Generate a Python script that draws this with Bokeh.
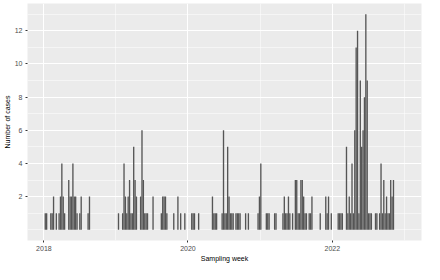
import datetime as dt
import calendar
from bokeh.plotting import figure
from bokeh.models import FixedTicker, DatetimeTickFormatter, Range1d, ColumnDataSource
from bokeh.embed import file_html
from bokeh.resources import INLINE

# Weekly case counts; weeks counted from the Monday 2018-01-01
origin = dt.datetime(2018, 1, 1)

weeks_2018 = [1, 2, 5, 6, 7, 9, 11, 12, 13, 14, 15, 18, 19, 20, 21, 22, 23, 24, 26, 27, 32, 33]
cases_2018 = [1, 1, 1, 1, 2, 1, 1, 2, 4, 2, 1, 3, 2, 2, 4, 2, 2, 1, 1, 2, 1, 2]

weeks_2019 = [54, 57, 58, 59, 60, 61, 62, 63, 64, 65, 66, 67, 70, 71, 72, 73, 74, 75, 79,
              85, 86, 87, 88, 89, 94, 97, 99, 102]
cases_2019 = [1, 1, 4, 2, 1, 2, 3, 1, 1, 5, 3, 2, 2, 6, 3, 1, 1, 1, 2,
              1, 2, 2, 2, 1, 1, 2, 1, 1]

weeks_2020 = [107, 108, 109, 112, 122, 123, 124, 125, 129, 130, 131, 132, 133, 134, 135, 136,
              137, 139, 140, 141, 142, 146, 148, 155, 156]
cases_2020 = [1, 1, 1, 1, 2, 1, 1, 1, 1, 6, 1, 1, 5, 2, 1, 1,
              1, 1, 1, 1, 1, 1, 1, 1, 2]

weeks_2021 = [157, 161, 162, 163, 167, 168, 173, 174, 175, 176, 177, 178, 180, 182, 183, 184,
              185, 186, 187, 188, 189, 190, 192, 193, 194, 200, 204, 205, 206, 208]
cases_2021 = [4, 1, 1, 1, 1, 1, 1, 2, 1, 1, 2, 1, 1, 3, 3, 1,
              1, 3, 3, 2, 1, 1, 1, 1, 2, 1, 2, 1, 2, 1]

weeks_2022 = [213, 214, 215, 216, 219, 220, 221, 222, 223, 224, 225, 226, 227, 228, 229, 230,
              231, 232, 233, 234, 235, 236, 237, 240, 241, 243, 244, 245, 246, 247, 248, 249,
              250, 251, 252, 253]
cases_2022 = [1, 1, 1, 1, 5, 1, 2, 1, 4, 1, 6, 11, 12, 1, 9, 5,
              6, 8, 13, 9, 1, 1, 1, 1, 1, 1, 4, 1, 3, 1, 2, 1,
              1, 3, 2, 3]

year_ticks = [2018, 2020, 2022]
year_minor = [2019, 2021, 2023]
y_ticks = [2, 4, 6, 8, 10, 12]
y_minor = [0, 1, 3, 5, 7, 9, 11, 13]

weeks = weeks_2018 + weeks_2019 + weeks_2020 + weeks_2021 + weeks_2022
cases = cases_2018 + cases_2019 + cases_2020 + cases_2021 + cases_2022
dates = [origin + dt.timedelta(weeks=w) for w in weeks]

def ms(d):
    return calendar.timegm(d.timetuple()) * 1000.0

src = ColumnDataSource(dict(x=dates, top=cases))

p = figure(width=424, height=264, x_axis_type="datetime", output_backend="svg",
           toolbar_location=None,
           x_range=Range1d(dt.datetime(2017, 10, 10), dt.datetime(2023, 3, 29)),
           y_range=Range1d(-0.65, 13.65),
           min_border_left=0, min_border_right=3, min_border_top=3, min_border_bottom=0)

p.background_fill_color = "#EBEBEB"
p.border_fill_color = "white"
p.outline_line_color = None

week_ms = 7 * 24 * 3600 * 1000
p.vbar(x="x", top="top", bottom=0, width=week_ms * 0.97, source=src,
       fill_color="#555555", line_color=None)

p.xaxis.ticker = FixedTicker(ticks=[ms(dt.datetime(y, 1, 1)) for y in year_ticks],
                             minor_ticks=[ms(dt.datetime(y, 1, 1)) for y in year_minor])
p.xaxis.formatter = DatetimeTickFormatter(years="%Y", months="%Y", days="%Y", hours="%Y",
                                          minutes="%Y", seconds="%Y", milliseconds="%Y",
                                          microseconds="%Y", minsec="%Y", hourmin="%Y")
p.yaxis.ticker = FixedTicker(ticks=y_ticks, minor_ticks=y_minor)

for ax in (p.xaxis, p.yaxis):
    ax.axis_line_color = None
    ax.major_tick_line_color = "#333333"
    ax.major_tick_in = 0
    ax.major_tick_out = 2
    ax.minor_tick_line_color = None
    ax.major_label_text_color = "#4D4D4D"
    ax.major_label_text_font = "Liberation Sans"
    ax.major_label_text_font_size = "7px"
    ax.major_label_standoff = 1
    ax.axis_label_text_font = "Liberation Sans"
    ax.axis_label_text_font_size = "7px"
    ax.axis_label_text_font_style = "normal"
    ax.axis_label_text_color = "black"
    ax.axis_label_standoff = 1

p.xaxis.axis_label = "Sampling week"
p.yaxis.axis_label = "Number of cases"

for g in (p.xgrid, p.ygrid):
    g.grid_line_color = "white"
    g.grid_line_width = 1.1
    g.minor_grid_line_color = "white"
    g.minor_grid_line_width = 0.5

open("out.html", "w").write(file_html(p, INLINE))
